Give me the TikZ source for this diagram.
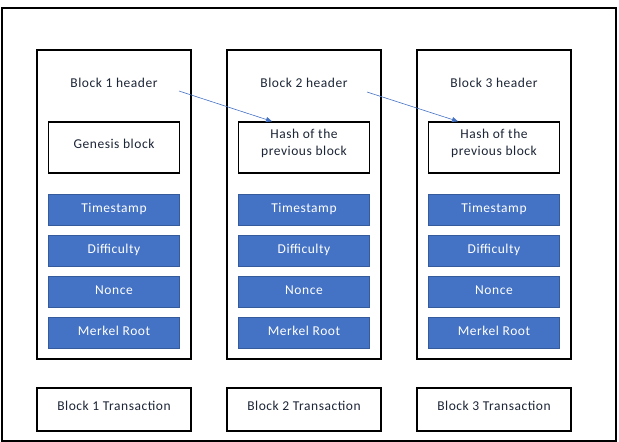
\documentclass[tikz,border=0pt]{standalone}
\usepackage{fontspec}
\setmainfont[LetterSpace=4]{Carlito}
\usetikzlibrary{arrows.meta}
\definecolor{offblue}{HTML}{4472C4}
\definecolor{txt}{HTML}{1C2536}
\begin{document}
\begin{tikzpicture}[x=1pt,y=-1pt,
  frame/.style={draw=black,line width=1.5pt},
  panel/.style={draw=black,line width=1.5pt},
  wbox/.style={draw=black,line width=1.3pt,fill=white,minimum width=131pt,minimum height=51pt},
  wtxt/.style={align=center,font=\fontsize{13.5}{17.5}\selectfont,text=txt},
  bbox/.style={draw=offblue!80!black,line width=0.6pt,fill=offblue,minimum width=131pt,minimum height=31pt,font=\fontsize{13.5}{15}\selectfont,text=white,text height=9pt,text depth=2.6pt},
  tbox/.style={draw=black,line width=1.3pt,minimum width=154pt,minimum height=43pt,font=\fontsize{13.5}{15}\selectfont,text=txt,text height=9pt,text depth=6.6pt},
  lbl/.style={font=\fontsize{13.5}{15}\selectfont,text=txt},
  link/.style={draw=offblue,line width=0.6pt,-{Triangle[length=6pt,width=5pt]}}]
\useasboundingbox (0,0) rectangle (619,442);
\draw[frame] (2,8) rectangle (616,441);
\foreach \i/\x in {1/114,2/304,3/494}{
  \draw[panel] (\x-77,50) rectangle (\x+77,359);
  \node[lbl] (h\i) at (\x,83) {Block \i{} header};
  \node[bbox] (ts\i) at (\x,209.5) {Timestamp};
  \node[bbox] (df\i) at (\x,250.5) {Difficulty};
  \node[bbox] (nc\i) at (\x,291.5) {Nonce};
  \node[bbox] (mr\i) at (\x,332.5) {Merkel Root};
  \node[tbox] (tx\i) at (\x,409.5) {Block \i{} Transaction};
}
\node[wbox] (g1) at (114,147.5) {};
\node[wbox] (p2) at (304,147.5) {};
\node[wbox] (p3) at (494,147.5) {};
\node[wtxt,yshift=4pt] (g1t) at (g1.center) {Genesis block};
\node[wtxt,yshift=4pt] (p2t) at (p2.center) {Hash of the\\previous block};
\node[wtxt,yshift=4pt] (p3t) at (p3.center) {Hash of the\\previous block};
\coordinate (a1) at (179,91);
\coordinate (a2) at (367,92);
\draw[link] (a1) -- (p2.north west -| 272,0);
\draw[link] (a2) -- (p3.north west -| 458,0);
\end{tikzpicture}
\end{document}
